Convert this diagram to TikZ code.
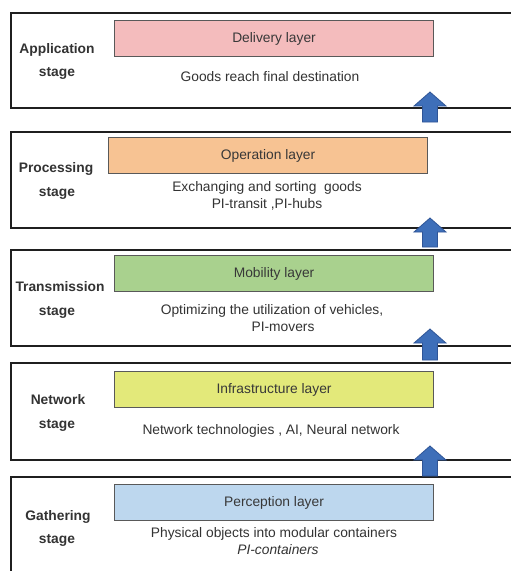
\documentclass[tikz,border=0pt]{standalone}
\usepackage{fontspec}
\setmainfont{Liberation Sans}
\begin{document}
\begin{tikzpicture}[x=1pt,y=-1pt,
  panel/.style={draw=black!88,line width=1.2pt,fill=white},
  layerbox/.style={draw=black!65,line width=1.1pt,minimum width=319pt,minimum height=36pt,
    inner sep=0pt,anchor=north west,text=black!78,font=\fontsize{13.8}{16}\selectfont},
  stagelbl/.style={text=black!80,font=\fontsize{13.8}{16}\selectfont\bfseries,inner sep=0pt},
  desc/.style={text=black!80,font=\fontsize{13.8}{16}\selectfont,inner sep=0pt},
  uparrow/.style={fill=arrowblue,draw=arrowedge,line width=0.8pt,line join=miter}]
\definecolor{deliv}{HTML}{F4BCBD}
\definecolor{oper}{HTML}{F7C393}
\definecolor{mobil}{HTML}{A9D18E}
\definecolor{infra}{HTML}{E3E97A}
\definecolor{percep}{HTML}{BDD7EE}
\definecolor{arrowblue}{HTML}{3E6FB9}
\definecolor{arrowedge}{HTML}{2F5597}
\useasboundingbox (0,0) rectangle (511,571);
\clip (0,0) rectangle (511,571);
\fill[white] (0,0) rectangle (511,571);

% stage panels, running off the right (and bottom) edge
\draw[panel] (11,13) rectangle (530,108);
\draw[panel] (11,132) rectangle (530,228);
\draw[panel] (11,250) rectangle (530,346);
\draw[panel] (11,363) rectangle (530,460);
\draw[panel] (11,477) rectangle (530,590);

% layer boxes
\node[layerbox,fill=deliv] (delivery) at (114,20) {Delivery layer};
\node[layerbox,fill=oper] (operation) at (108,137) {Operation layer};
\node[layerbox,fill=mobil] (mobility) at (114,255) {Mobility layer};
\node[layerbox,fill=infra] (infra) at (114,371) {Infrastructure layer};
\node[layerbox,fill=percep] (perception) at (114,484) {Perception layer};

% stage names
\node[stagelbl] (s1a) at (57,50) {Application};
\node[stagelbl] (s1b) at (57,73) {stage};
\node[stagelbl] (s2a) at (56,169) {Processing};
\node[stagelbl] (s2b) at (57,193) {stage};
\node[stagelbl] (s3a) at (60,287) {Transmission};
\node[stagelbl] (s3b) at (57,312) {stage};
\node[stagelbl] (s4a) at (58,400) {Network};
\node[stagelbl] (s4b) at (57,425) {stage};
\node[stagelbl] (s5a) at (58,517) {Gathering};
\node[stagelbl] (s5b) at (57,540) {stage};

% descriptions
\node[desc] (d1) at (270,77) {Goods reach final destination};
\node[desc] (d2a) at (267,188) {Exchanging and sorting\ \ goods};
\node[desc] (d2b) at (267,204) {PI-transit ,PI-hubs};
\node[desc] (d3a) at (272,311) {Optimizing the utilization of vehicles,};
\node[desc] (d3b) at (283,327) {PI-movers};
\node[desc] (d4) at (271,431) {Network technologies , AI, Neural network};
\node[desc] (d5a) at (274,534) {Physical objects into modular containers};
\node[desc] (d5b) at (278,550) {\itshape PI-containers};

% upward block arrows between stages
\foreach \t/\b in {92/122, 218/247, 329/360, 446/476}{
  \draw[uparrow] (430,\t) -- (446,\t+14) -- (437.5,\t+14) -- (437.5,\b)
    -- (422.5,\b) -- (422.5,\t+14) -- (414,\t+14) -- cycle;
}
\end{tikzpicture}
\end{document}
